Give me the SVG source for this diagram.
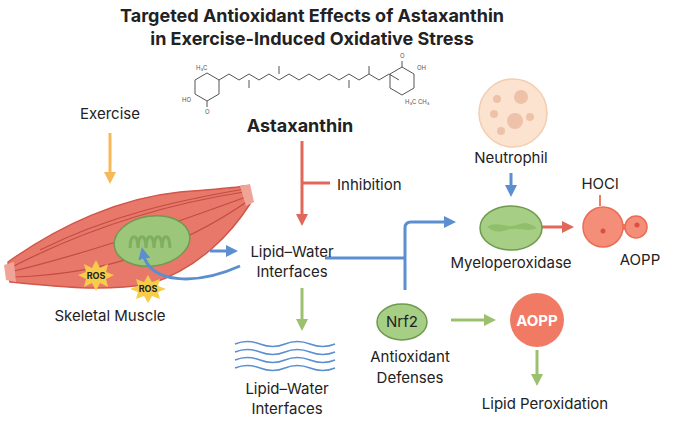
<svg xmlns="http://www.w3.org/2000/svg" width="685" height="424" viewBox="0 0 685 424">
<defs>
<style>
text{font-family:"Inter","Liberation Sans",sans-serif;fill:#222;}
.t{font-size:18px;font-weight:bold;text-anchor:middle}
.l{font-size:15px;text-anchor:middle}
.m{fill:none;stroke:#555;stroke-width:1}
.s{font-size:6px;fill:#555}
</style>
<marker id="ab" markerWidth="4" markerHeight="4" refX="2" refY="2" orient="auto" markerUnits="strokeWidth"><path d="M0,0L4,2L0,4z" fill="#5b8fd0"/></marker>
<marker id="ar" markerWidth="4" markerHeight="4" refX="2" refY="2" orient="auto" markerUnits="strokeWidth"><path d="M0,0L4,2L0,4z" fill="#e0675a"/></marker>
<marker id="ag" markerWidth="4" markerHeight="4" refX="2" refY="2" orient="auto" markerUnits="strokeWidth"><path d="M0,0L4,2L0,4z" fill="#9cc16e"/></marker>
<marker id="ao" markerWidth="4" markerHeight="4" refX="2" refY="2" orient="auto" markerUnits="strokeWidth"><path d="M0,0L4,2L0,4z" fill="#f5b95a"/></marker>
</defs>
<rect width="685" height="424" fill="#fff"/>
<text class="t" x="312" y="22">Targeted Antioxidant Effects of Astaxanthin</text>
<text class="t" x="312" y="45">in Exercise-Induced Oxidative Stress</text>
<g id="molecule">
<path class="m" d="M195,80l12,-7l12,7v14l-12,7l-12,-7zM219,80l10,-6l10,6l10,-6l10,6l10,-6l10,6l10,-6l10,6l10,-6l10,6l10,-6l10,6l10,-6l10,6l10,-6l10,6l10,-6l10,6M390,74l12,-7l12,7v14l-12,7l-12,-7zM207,101v6M402,67v-6M279,74v-8M349,80v8M249,80v8M369,74v-8"/>
<text class="s" x="182" y="102">HO</text><text class="s" x="205" y="114">O</text><text class="s" x="417" y="70">OH</text><text class="s" x="400" y="58">O</text>
<text class="s" x="196" y="70">H₃C</text><text class="s" x="405" y="104">H₃C CH₃</text>
</g>
<text class="t" x="300" y="132">Astaxanthin</text>
<g id="muscle">
<path d="M8,262C60,225 120,198 180,192C215,189 235,188 244,186L250,204C232,232 200,268 150,284C100,292 50,286 10,282Z" fill="#e8786a" stroke="#d1574b" stroke-width="1.5"/>
<path d="M10,272C80,255 150,232 246,197M12,267C80,232 160,205 244,192M14,277C90,275 170,255 248,201M40,250C110,215 180,200 245,189" fill="none" stroke="#c24c42" stroke-width="1.2"/>
<path d="M4,265L14,262L16,282L6,280Z" fill="#f0a397"/>
<path d="M240,186L250,184L254,202L246,206Z" fill="#f0a397"/>
<ellipse cx="152" cy="241" rx="38" ry="25" fill="#9cc77a" stroke="#6e9b4f" stroke-width="1.5" transform="rotate(-8 152 241)"/>
<path d="M130,248c0,-15 8,-15 8,0c0,-15 8,-15 8,0c0,-15 8,-15 8,0c0,-15 8,-15 8,0c0,-15 8,-15 8,0" fill="none" stroke="#7fae5e" stroke-width="3"/>
</g>
<g id="connectors" fill="none" stroke-width="3">
<path d="M302,141V220" stroke="#e0675a" marker-end="url(#ar)"/>
<path d="M302,183H330" stroke="#e0675a"/>
<path d="M110,133V178" stroke="#f5b95a" marker-end="url(#ao)"/>
<path d="M210,251H232" stroke="#5b8fd0" marker-end="url(#ab)"/>
<path d="M240,266C200,284 150,286 143,253" stroke="#5b8fd0" marker-end="url(#ab)"/>
<path d="M302,288V325" stroke="#9cc16e" marker-end="url(#ag)"/>
<path d="M325,258H405M405,290V228Q405,222 411,222H450" stroke="#5b8fd0" marker-end="url(#ab)"/>
<path d="M511,173V191" stroke="#5b8fd0" marker-end="url(#ab)"/>
<path d="M540,227H568" stroke="#e0675a" marker-end="url(#ar)"/>
<path d="M600,195V206" stroke="#f07a63" stroke-width="2"/>
<path d="M451,320H490" stroke="#9cc16e" marker-end="url(#ag)"/>
<path d="M537,350V380" stroke="#9cc16e" marker-end="url(#ag)"/>
</g>
<text class="l" x="337" y="190" style="text-anchor:start">Inhibition</text>
<text class="l" x="110" y="119">Exercise</text>
<g id="ros1"><polygon points="96,260 100,268 108,264 106,272 114,275 106,279 108,287 100,283 96,291 92,283 84,287 86,279 78,275 86,272 84,264 92,268" fill="#f7cc4a"/><text x="96" y="279" font-size="9" font-weight="bold" text-anchor="middle">ROS</text></g>
<g id="ros2"><polygon points="148,275 152,282 160,279 158,286 166,289 158,292 160,299 152,296 148,303 144,296 136,299 138,292 130,289 138,286 136,279 144,282" fill="#f7cc4a"/><text x="148" y="292" font-size="9" font-weight="bold" text-anchor="middle">ROS</text></g>
<text class="l" x="110" y="321">Skeletal Muscle</text>
<g id="lwi"><text class="l" x="292" y="257">Lipid–Water</text><text class="l" x="292" y="277">Interfaces</text></g>
<g id="waves" fill="none" stroke="#5b8fd0" stroke-width="1.5">
<path d="M235,344q12,-5 25,0t25,0t25,0t25,0"/><path d="M235,352q12,-5 25,0t25,0t25,0t25,0"/><path d="M235,360q12,-5 25,0t25,0t25,0t25,0"/><path d="M235,368q12,-5 25,0t25,0t25,0t25,0"/>
</g>
<g id="lwi2"><text class="l" x="287" y="394">Lipid–Water</text><text class="l" x="287" y="414">Interfaces</text></g>
<g id="neutrophil"><circle cx="513" cy="113" r="34" fill="#fbe3d0" stroke="#f3cdb0" stroke-width="1.5"/>
<circle cx="521" cy="97" r="7" fill="#edc2a8"/><circle cx="515" cy="121" r="8" fill="#edc2a8"/><circle cx="497" cy="99" r="4" fill="#edc2a8"/><circle cx="494" cy="114" r="4" fill="#edc2a8"/><circle cx="530" cy="117" r="4" fill="#edc2a8"/><circle cx="501" cy="131" r="4" fill="#edc2a8"/>
<text class="l" x="511" y="163">Neutrophil</text></g>
<g id="mpo"><ellipse cx="511" cy="228" rx="31" ry="22" fill="#a7ce85" stroke="#6e9b4f" stroke-width="1.5"/><path d="M487,227c10,-7 20,2 30,-2s15,0 20,3c-10,5 -20,-2 -30,2s-15,0 -20,-3z" fill="#8fbf6b"/>
<text class="l" x="511" y="268">Myeloperoxidase</text></g>
<g id="aopp1"><rect x="622" y="224" width="10" height="6" fill="#f07a63"/><circle cx="603" cy="227" r="20" fill="#f48e78" stroke="#ec6b55" stroke-width="1.5"/><circle cx="636" cy="227" r="11" fill="#f48e78" stroke="#ec6b55" stroke-width="1.5"/><circle cx="603" cy="231" r="2.5" fill="#d9513e"/><circle cx="637" cy="225" r="2.5" fill="#d9513e"/>
<text class="l" x="600" y="189">HOCl</text><text class="l" x="640" y="265">AOPP</text></g>
<g id="nrf2"><ellipse cx="402" cy="322" rx="25" ry="18" fill="#a7ce85" stroke="#6e9b4f" stroke-width="1.5"/><text class="l" x="402" y="327">Nrf2</text>
<text class="l" x="410" y="362">Antioxidant</text><text class="l" x="410" y="383">Defenses</text></g>
<g id="aopp2"><circle cx="537" cy="320" r="27" fill="#f07a63"/><text class="l" x="537" y="326" font-weight="bold" style="fill:#fff">AOPP</text>
<text class="l" x="545" y="409">Lipid Peroxidation</text></g>
</svg>
